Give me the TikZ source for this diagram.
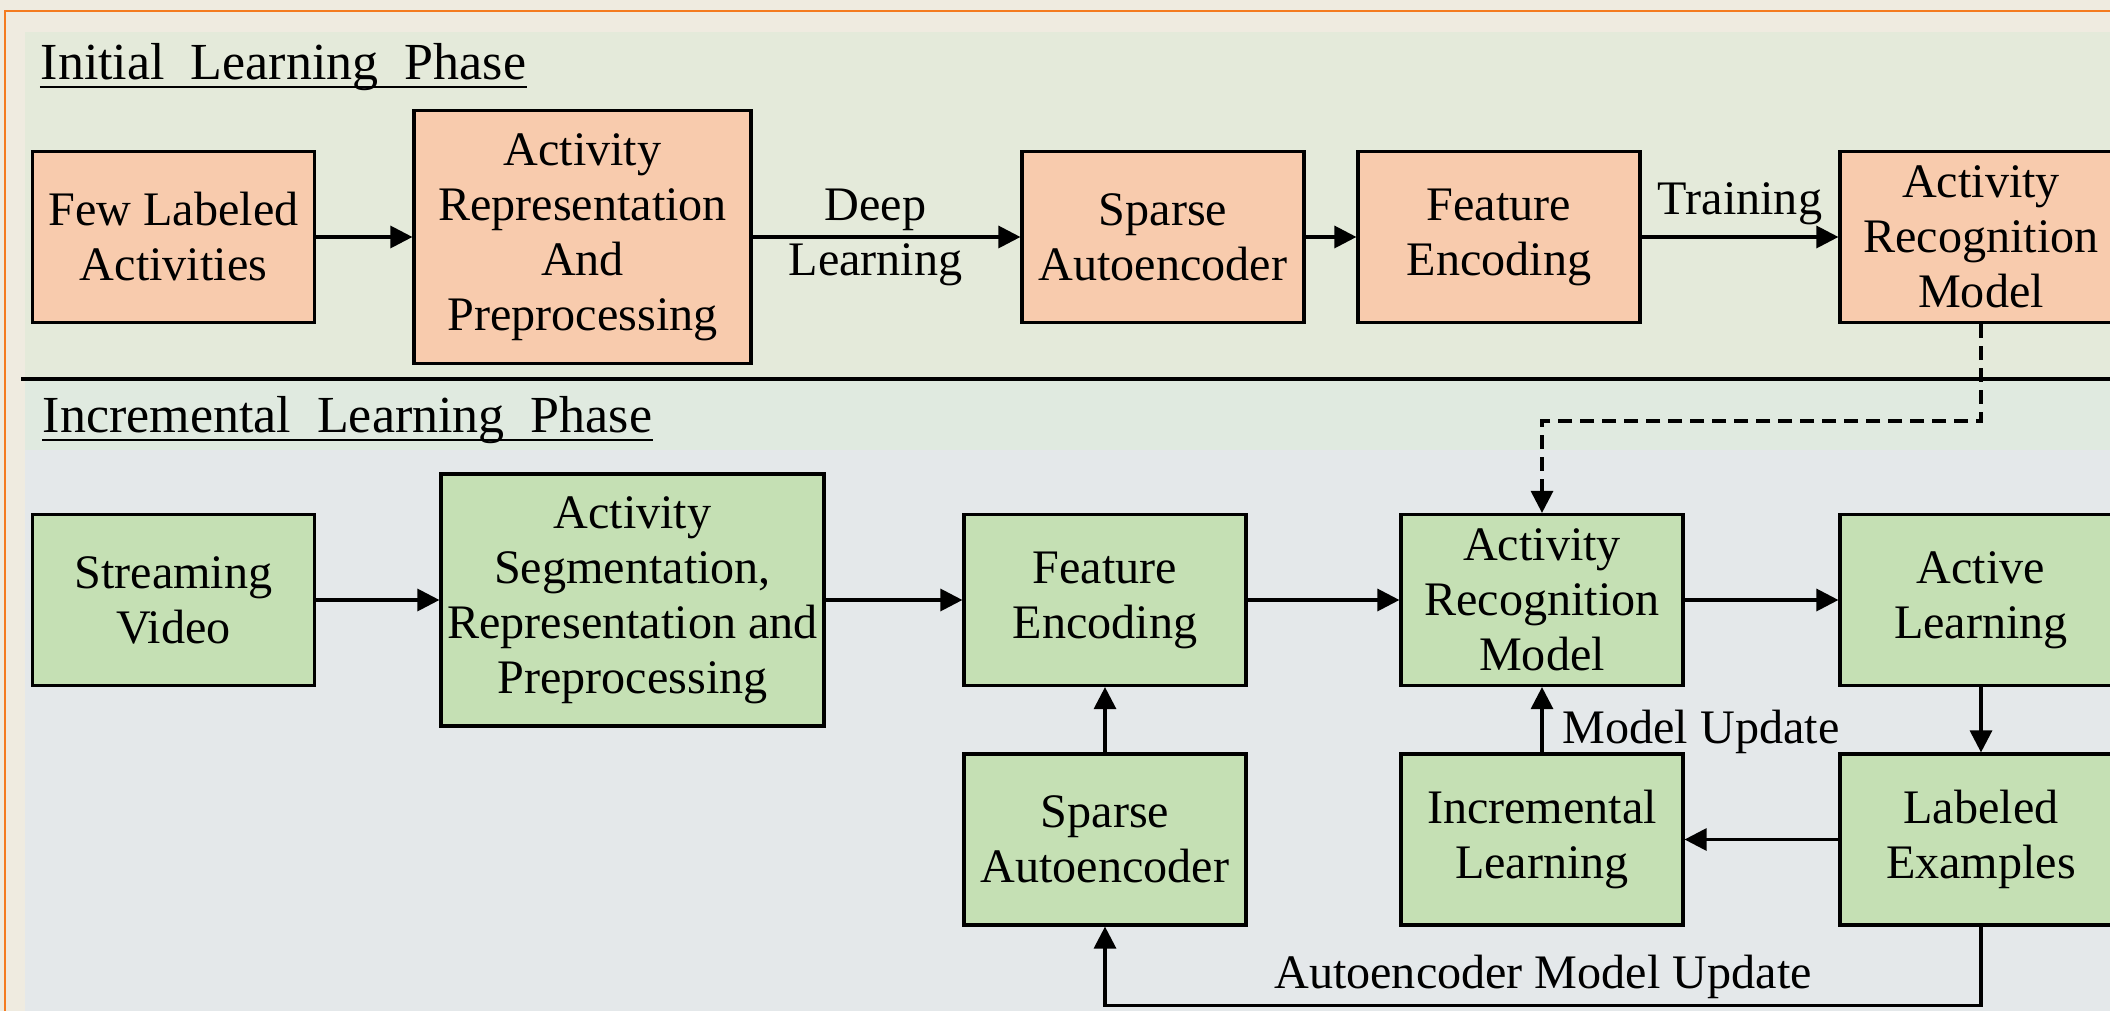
\documentclass[tikz,border=0pt]{standalone}
\usepackage{fontspec}
\setmainfont{Liberation Serif}
\usetikzlibrary{arrows.meta}
\definecolor{outerbg}{HTML}{EFEBE0}
\definecolor{frameorange}{HTML}{F47B20}
\definecolor{toppanel}{HTML}{E4EADA}
\definecolor{midpanel}{HTML}{E0EAE0}
\definecolor{lowpanel}{HTML}{E4E8EA}
\definecolor{boxorange}{HTML}{F8CBAD}
\definecolor{boxgreen}{HTML}{C5E0B4}
\begin{document}
\begin{tikzpicture}[font=\fontsize{13.7pt}{15.65pt}\selectfont,
      box/.style={draw=black, line width=0.9pt, minimum width=2.82cm, minimum height=1.71cm,
        align=center, inner sep=0pt},
      initbox/.style={box, fill=boxorange},
      incbox/.style={box, fill=boxgreen},
      flow/.style={line width=0.9pt, -{Triangle[length=0.22cm, width=0.22cm]}},
      lbl/.style={align=center, inner sep=0pt},
      phase/.style={anchor=base west, inner sep=0pt, font=\fontsize{14.8pt}{17pt}\selectfont}]
    \clip (0,0) rectangle (21.1,-10.11);
    \fill[outerbg] (0,0) rectangle (21.1,-10.11);
    \draw[frameorange, line width=0.6pt] (0.05,-0.11) rectangle (21.6,-10.6);
    \fill[toppanel] (0.25,-0.32) rectangle (21.1,-3.79);
    \fill[midpanel] (0.25,-3.79) rectangle (21.1,-4.5);
    \fill[lowpanel] (0.25,-4.5) rectangle (21.1,-10.11);
    \draw[line width=0.9pt] (0.21,-3.79) -- (21.1,-3.79);
    \begin{scope}
      \node[phase] (initphase) at (0.40,-0.80) {Initial\ \ Learning\ \ Phase};
      \draw[line width=0.6pt] ([yshift=-0.07cm]initphase.base west) -- ([yshift=-0.07cm]initphase.base east);
      \node[initbox] (few) at (1.735,-2.37) {Few Labeled\\Activities};
      \node[initbox, minimum width=3.37cm, minimum height=2.53cm] (rep) at (5.825,-2.37)
        {Activity\\Representation\\And\\Preprocessing};
      \node[initbox] (sae1) at (11.63,-2.37) {Sparse\\Autoencoder};
      \node[initbox] (fe1) at (14.99,-2.37) {Feature\\Encoding};
      \node[initbox] (arm1) at (19.81,-2.37) {Activity\\Recognition\\Model};
      \draw[flow] (few) -- (rep);
      \draw[flow] (rep) -- node[lbl, xshift=-0.11cm] {Deep\\Learning} (sae1);
      \draw[flow] (sae1) -- (fe1);
      \draw[flow] (fe1) -- node[lbl, anchor=base, yshift=0.22cm] {Training} (arm1);
    \end{scope}
    \begin{scope}
      \node[phase] (incphase) at (0.42,-4.33) {Incremental\ \ Learning\ \ Phase};
      \draw[line width=0.6pt] ([yshift=-0.07cm]incphase.base west) -- ([yshift=-0.07cm]incphase.base east);
      \node[incbox] (video) at (1.735,-6.0) {Streaming\\Video};
      \node[incbox, minimum width=3.83cm, minimum height=2.52cm] (seg) at (6.325,-6.0)
        {Activity\\Segmentation,\\Representation and\\Preprocessing};
      \node[incbox] (fe2) at (11.05,-6.0) {Feature\\Encoding};
      \node[incbox] (arm2) at (15.42,-6.0) {Activity\\Recognition\\Model};
      \node[incbox] (active) at (19.81,-6.0) {Active\\Learning};
      \node[incbox] (sae2) at (11.05,-8.395) {Sparse\\Autoencoder};
      \node[incbox] (inc) at (15.42,-8.395) {Incremental\\Learning};
      \node[incbox] (labeled) at (19.81,-8.395) {Labeled\\Examples};
      \draw[flow] (video) -- (seg);
      \draw[flow] (seg) -- (fe2);
      \draw[flow] (fe2) -- (arm2);
      \draw[flow] (arm2) -- (active);
      \draw[flow] (active) -- (labeled);
      \draw[flow] (labeled) -- (inc);
      \draw[flow] (inc) -- node[lbl, anchor=base west, xshift=0.19cm, yshift=-0.24cm] {Model Update} (arm2);
      \draw[flow] (sae2) -- (fe2);
      \draw[flow] (labeled.south) -- ++(0,-0.79) -| node[pos=0.25, lbl, anchor=base, yshift=0.17cm]
        {Autoencoder Model Update} (sae2.south);
    \end{scope}
    \draw[flow, dash pattern=on 0.14cm off 0.08cm] (arm1.south) -- ++(0,-0.97) -| (arm2.north);
  \end{tikzpicture}
\end{document}
